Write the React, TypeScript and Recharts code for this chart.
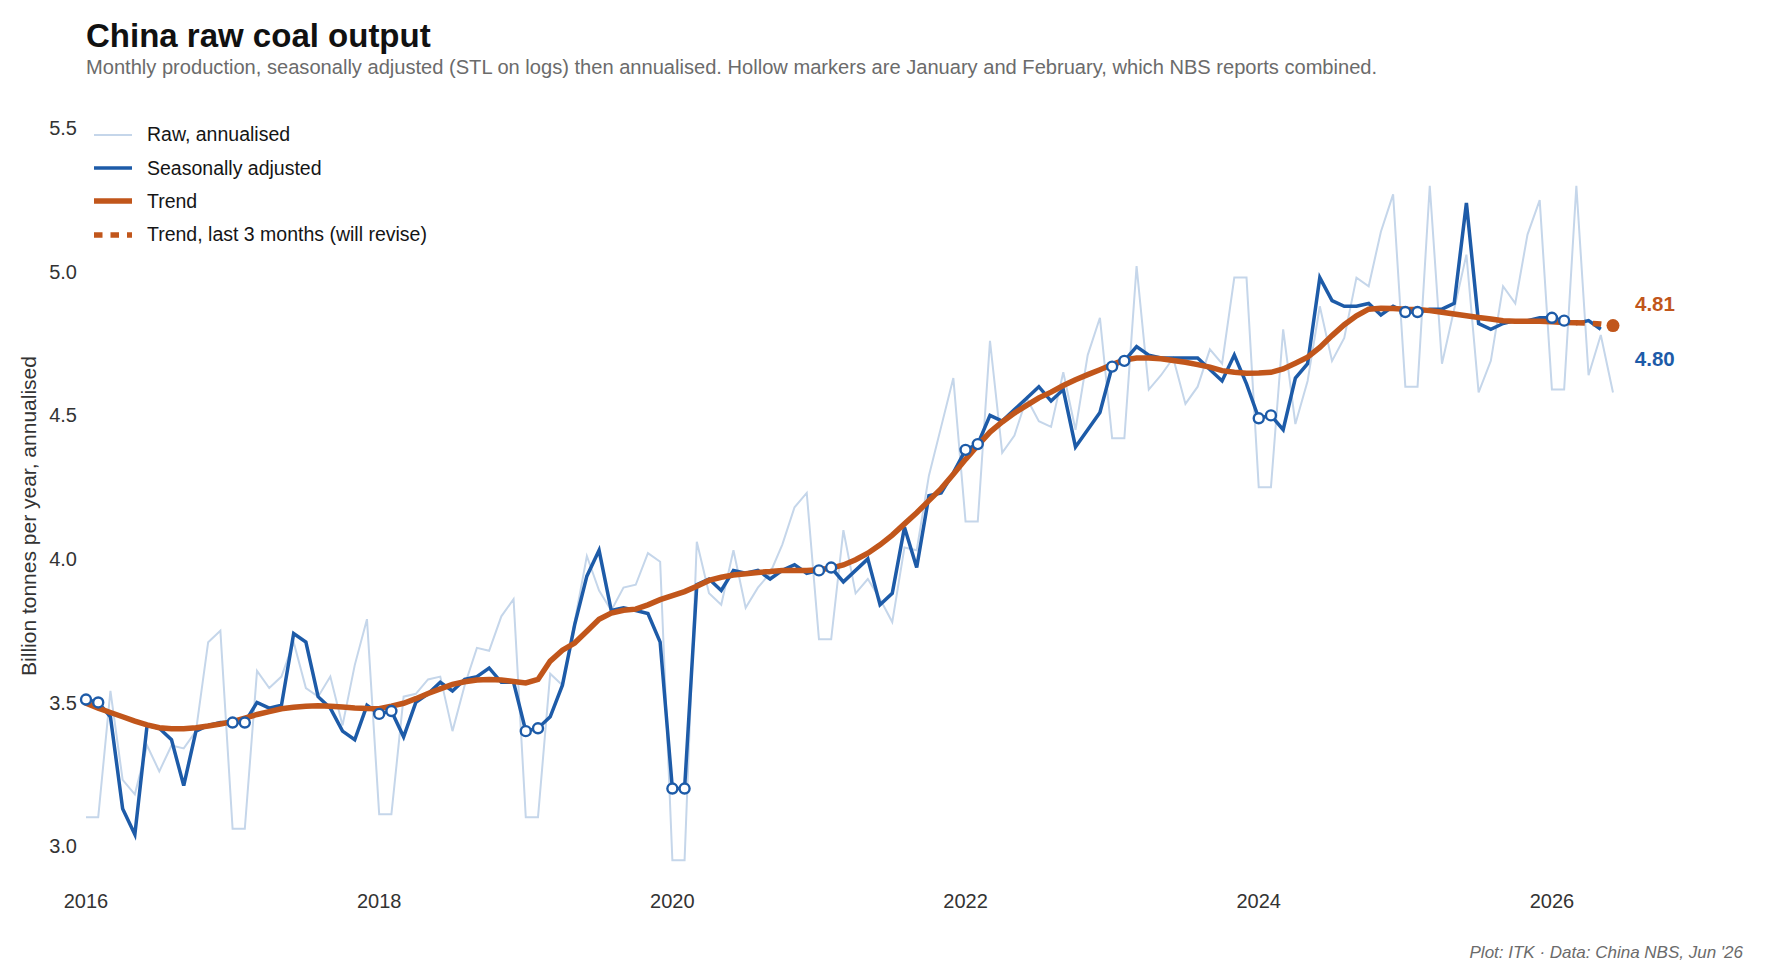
import React from 'react';
import { LineChart, Line, XAxis, YAxis, Legend, LabelList } from 'recharts';

// monthly values, Jan 2016 .. Jun 2026 (billion tonnes / year, annualised)
const RAW = [
  3.10, 3.10, 3.54, 3.23, 3.18, 3.35, 3.26, 3.35, 3.34, 3.40, 3.71, 3.75,
  3.06, 3.06, 3.61, 3.55, 3.59, 3.71, 3.55, 3.52, 3.59, 3.42, 3.63, 3.79,
  3.11, 3.11, 3.52, 3.53, 3.58, 3.59, 3.40, 3.56, 3.69, 3.68, 3.80, 3.86,
  3.10, 3.10, 3.60, 3.56, 3.78, 4.01, 3.89, 3.82, 3.90, 3.91, 4.02, 3.99,
  2.95, 2.95, 4.06, 3.88, 3.84, 4.03, 3.83, 3.90, 3.95, 4.05, 4.18, 4.23,
  3.72, 3.72, 4.10, 3.88, 3.93, 3.86, 3.78, 4.04, 4.03, 4.29, 4.46, 4.63,
  4.13, 4.13, 4.76, 4.37, 4.43, 4.56, 4.48, 4.46, 4.65, 4.45, 4.71, 4.84,
  4.42, 4.42, 5.02, 4.59, 4.64, 4.70, 4.54, 4.60, 4.73, 4.68, 4.98, 4.98,
  4.25, 4.25, 4.80, 4.47, 4.62, 4.88, 4.69, 4.77, 4.98, 4.95, 5.14, 5.27,
  4.60, 4.60, 5.30, 4.68, 4.87, 5.06, 4.58, 4.69, 4.95, 4.89, 5.13, 5.25,
  4.59, 4.59, 5.30, 4.64, 4.78, 4.58,
];

// seasonally adjusted, Jan 2016 .. May 2026
const SA = [
  3.51, 3.50, 3.45, 3.13, 3.04, 3.42, 3.41, 3.37, 3.21, 3.40, 3.42, 3.43,
  3.43, 3.43, 3.50, 3.48, 3.49, 3.74, 3.71, 3.52, 3.48, 3.40, 3.37, 3.49,
  3.46, 3.47, 3.38, 3.50, 3.53, 3.57, 3.54, 3.58, 3.59, 3.62, 3.57, 3.57,
  3.40, 3.41, 3.45, 3.56, 3.77, 3.94, 4.03, 3.82, 3.83, 3.82, 3.81, 3.71,
  3.20, 3.20, 3.91, 3.93, 3.89, 3.96, 3.95, 3.96, 3.93, 3.96, 3.98, 3.95,
  3.96, 3.97, 3.92, 3.96, 4.00, 3.84, 3.88, 4.11, 3.97, 4.22, 4.23, 4.30,
  4.38, 4.40, 4.50, 4.48, 4.52, 4.56, 4.60, 4.55, 4.59, 4.39, 4.45, 4.51,
  4.67, 4.69, 4.74, 4.71, 4.70, 4.70, 4.70, 4.70, 4.66, 4.62, 4.71, 4.61,
  4.49, 4.50, 4.45, 4.63, 4.68, 4.98, 4.90, 4.88, 4.88, 4.89, 4.85, 4.88,
  4.86, 4.86, 4.87, 4.87, 4.89, 5.24, 4.82, 4.80, 4.82, 4.83, 4.83, 4.84,
  4.84, 4.83, 4.82, 4.83, 4.80,
];

const TREND = [
  3.497, 3.480, 3.465, 3.450, 3.435, 3.422, 3.412, 3.408, 3.408, 3.412, 3.418, 3.425,
  3.433, 3.445, 3.458, 3.468, 3.478, 3.483, 3.487, 3.488, 3.487, 3.484, 3.481, 3.479,
  3.478, 3.487, 3.497, 3.513, 3.531, 3.547, 3.563, 3.572, 3.578, 3.580, 3.578, 3.573,
  3.568, 3.580, 3.644, 3.682, 3.707, 3.748, 3.790, 3.811, 3.821, 3.825, 3.840, 3.858,
  3.872, 3.886, 3.905, 3.925, 3.936, 3.944, 3.948, 3.953, 3.956, 3.960, 3.960, 3.960,
  3.962, 3.968, 3.979, 3.997, 4.020, 4.049, 4.083, 4.122, 4.161, 4.203, 4.245, 4.295,
  4.347, 4.395, 4.442, 4.477, 4.508, 4.535, 4.561, 4.581, 4.604, 4.624, 4.642, 4.659,
  4.677, 4.693, 4.700, 4.700, 4.697, 4.691, 4.685, 4.677, 4.668, 4.656, 4.650, 4.647,
  4.648, 4.650, 4.662, 4.682, 4.703, 4.737, 4.778, 4.816, 4.847, 4.870, 4.873, 4.872,
  4.870, 4.869, 4.865, 4.859, 4.853, 4.847, 4.841, 4.836, 4.830, 4.828, 4.828, 4.828,
  4.826, 4.824, 4.823, 4.821, 4.818, 4.813,
];

const YEAR_TICKS = [0, 24, 48, 72, 96, 120];
const YEAR_LABELS = ['2016', '2018', '2020', '2022', '2024', '2026'];
const Y_TICKS = [3.0, 3.5, 4.0, 4.5, 5.0, 5.5];

const FONT = '"Liberation Sans", Arial, Helvetica, sans-serif';
const RAW_COLOR = '#c5d6ea';
const BLUE = '#1d5ba8';
const ORANGE = '#c1561b';

const TAIL_START = TREND.length - 4;

const data = RAW.map((raw, i) => ({
  i,
  raw,
  sa: i < SA.length ? SA[i] : null,
  trend: i <= TAIL_START ? TREND[i] : null,
  tail: i >= TAIL_START ? TREND[i] : null,
}));

const LEGEND = [
  { name: 'Raw, annualised', color: RAW_COLOR, width: 2, dash: '' },
  { name: 'Seasonally adjusted', color: BLUE, width: 3.5, dash: '' },
  { name: 'Trend', color: ORANGE, width: 5.5, dash: '' },
  { name: 'Trend, last 3 months (will revise)', color: ORANGE, width: 5.5, dash: '8.5 8' },
];

const renderLegend = () => (
  <div style={{ fontFamily: FONT, fontSize: 19.5, color: '#151515' }}>
    {LEGEND.map((item) => (
      <div key={item.name} style={{ display: 'flex', alignItems: 'center', height: 33.4 }}>
        <svg width={38} height={10} style={{ marginRight: 15, flex: 'none' }}>
          <line x1={0} x2={38} y1={5} y2={5} stroke={item.color} strokeWidth={item.width}
            strokeDasharray={item.dash || undefined} />
        </svg>
        <span>{item.name}</span>
      </div>
    ))}
  </div>
);

// Jan and Feb are reported together, so they get hollow markers
const hollowDot = (props: any) => {
  const { cx, cy, index } = props;
  if (index % 12 > 1 || cx == null || cy == null) return <g key={'h' + index} />;
  return <circle key={'h' + index} cx={cx} cy={cy} r={5} fill="#fff" stroke={BLUE} strokeWidth={2.4} />;
};

const endDot = (props: any) => {
  const { cx, cy, index } = props;
  if (index !== TREND.length - 1 || cx == null || cy == null) return <g key={'e' + index} />;
  return <circle key={'e' + index} cx={cx} cy={cy} r={6.5} fill={ORANGE} stroke="none" />;
};

const endLabel = (color: string, last: number, dx: number, dy: number) => (props: any) => {
  const { x, y, value, index } = props;
  if (index !== last || value == null) return null;
  return (
    <text x={x + dx} y={y + dy} fill={color} fontFamily={FONT} fontSize={20.5} fontWeight={700}
      dominantBaseline="central">
      {Number(value).toFixed(2)}
    </text>
  );
};

export default function App() {
  return (
    <div style={{ position: 'relative', width: 1790, height: 977, fontFamily: FONT, background: '#fff' }}>
      <style>{'body{margin:0}'}</style>
      <LineChart width={1790} height={977} data={data}
        margin={{ top: 114, right: 177, left: 0, bottom: 48 }}>
        <XAxis type="number" dataKey="i" domain={[0, 125]} ticks={YEAR_TICKS}
          tickFormatter={(v) => YEAR_LABELS[YEAR_TICKS.indexOf(v)]}
          axisLine={false} tickLine={false} tickSize={0} tickMargin={5} height={40}
          tick={{ fill: '#333', fontSize: 20, fontFamily: FONT }} />
        <YAxis type="number" domain={[2.85, 5.55]} ticks={Y_TICKS} width={86}
          tickFormatter={(v) => Number(v).toFixed(1)}
          axisLine={false} tickLine={false} tickSize={0} tickMargin={9}
          tick={{ fill: '#333', fontSize: 20, fontFamily: FONT }} />
        <Legend layout="vertical" align="center" verticalAlign="middle" content={renderLegend}
          wrapperStyle={{ left: 94, top: 118, width: 460, height: 140 }} />
        <Line type="linear" dataKey="raw" stroke={RAW_COLOR} strokeWidth={2} dot={false}
          activeDot={false} isAnimationActive={false} />
        <Line type="linear" dataKey="sa" stroke={BLUE} strokeWidth={3.5} dot={false}
          activeDot={false} isAnimationActive={false}>
          <LabelList dataKey="sa" content={endLabel(BLUE, SA.length - 1, 34, 29)} />
        </Line>
        <Line type="linear" dataKey="trend" stroke={ORANGE} strokeWidth={5.5} dot={false}
          activeDot={false} isAnimationActive={false} strokeLinecap="round" />
        <Line type="linear" dataKey="tail" stroke={ORANGE} strokeWidth={5.5} strokeDasharray="8.5 8"
          dot={endDot} activeDot={false} isAnimationActive={false}>
          <LabelList dataKey="tail" content={endLabel(ORANGE, TREND.length - 1, 22, -22)} />
        </Line>
        <Line type="linear" dataKey="sa" stroke="none" dot={hollowDot}
          activeDot={false} isAnimationActive={false} legendType="none" />
      </LineChart>
      <svg width={1790} height={977} style={{ position: 'absolute', left: 0, top: 0, pointerEvents: 'none' }}>
        <text x={86} y={47} fontFamily={FONT} fontSize={33} fontWeight={700} fill="#111">
          China raw coal output
        </text>
        <text x={86} y={74} fontFamily={FONT} fontSize={20.1} fill="#6b6b6b">
          Monthly production, seasonally adjusted (STL on logs) then annualised. Hollow markers are January and February, which NBS reports combined.
        </text>
        <text transform="translate(36,516) rotate(-90)" textAnchor="middle" fontFamily={FONT}
          fontSize={21} fill="#333">
          Billion tonnes per year, annualised
        </text>
        <text x={1743} y={958} textAnchor="end" fontFamily={FONT} fontSize={17} fontStyle="italic" fill="#6b6b6b">
          Plot: ITK · Data: China NBS, Jun '26
        </text>
      </svg>
    </div>
  );
}
